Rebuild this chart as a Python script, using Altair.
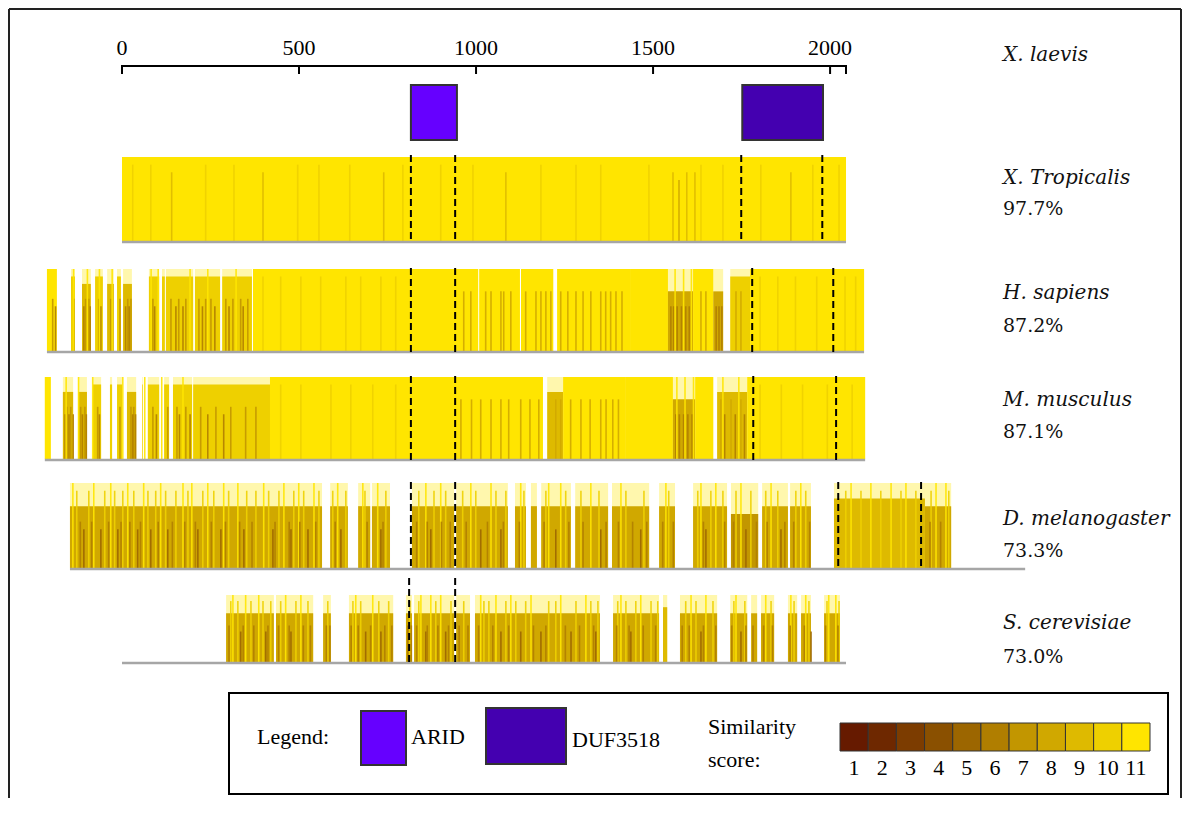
import altair as alt
import pandas as pd

W, H = 1174, 790
X_DOMAIN = [-322, 2994]

# similarity score colour scale (1 = low, 11 = identical)
score_levels = list(range(1, 12))
score_colors = ["#661a00", "#6e2800", "#7c3c00", "#8a5000", "#9c6600", "#b07e00",
                "#c29600", "#d0a800", "#deba00", "#eed000", "#ffe500"]

# top ruler (X. laevis reference positions)
axis_ticks = [0, 500, 1000, 1500, 2000]
axis_end = 2045

# protein domains in X. laevis
domain_names = ["ARID", "DUF3518"]
domain_starts = [816, 1752]
domain_ends = [946, 1980]
domain_colors = ["#6600ff", "#4400b0"]

species = ["X. Tropicalis", "H. sapiens", "M. musculus", "D. melanogaster", "S. cerevisiae"]
identity = ["97.7%", "87.2%", "87.1%", "73.3%", "73.0%"]

# ---- X. tropicalis ----
trop_starts = [0]
trop_ends = [2045]
trop_scores = [11]
trop_line_pos = [28, 79, 138, 234, 314, 396, 494, 554, 641, 737, 791, 898, 989, 1082,
                 1181, 1280, 1350, 1486, 1554, 1571, 1593, 1616, 1633, 1695, 1802, 1887, 1949, 2023]
trop_line_scores = [10, 10, 9, 10, 10, 9, 10, 10, 10, 9, 10, 10, 10, 9,
                    10, 10, 10, 10, 9, 8, 9, 9, 10, 10, 10, 9, 10, 10]
trop_bounds = [816, 941, 1749, 1978]
trop_span = [0, 2045]

# ---- H. sapiens ----
sap_starts = [-212, -144, -113, -76, -42, -14, 3, 76, 113, 124, 206, 283, 370, 935, 1009,
              1127, 1229, 1435, 1542, 1613, 1670, 1718, 1774]
sap_ends = [-184, -133, -88, -54, -23, -3, 28, 105, 121, 201, 277, 367, 935, 1006, 1124,
            1218, 1435, 1542, 1613, 1670, 1698, 1774, 2096]
sap_scores = [11, 10, 9, 10, 9, 10, 9, 10, 10, 10, 10, 10, 11, 11, 11,
              11, 11, 11, 8, 11, 8, 10, 11]
sap_line_pos = [-198, -138, -105, -96, -68, -34, -8, 14, 23, 85, 136, 158, 178, 215, 234, 249,
                291, 311, 333, 353,
                396, 446, 503, 559, 630, 672, 729, 771,
                983, 1025, 1068, 1096, 1181, 1195, 1237, 1280, 1322, 1364, 1393, 1633, 1647,
                1732, 1746, 1800, 1850, 1900, 1960, 2040, 2070,
                -190, -110, -92, -62, 8, 18, 90, 150, 170, 225, 260, 300, 340,
                1548, 1556, 1566, 1578, 1590, 1600, 1676, 1684, 1692,
                -206, -139, -100, -66, -30, 80, 100, 190, 240, 320, 1560, 1584, 1606,
                963, 1040, 1076, 1138, 1167, 1209, 1257, 1300, 1350, 1378, 1410]
sap_line_scores = ([7] * 20 + [10] * 8 + [8] * 15 + [10] * 6
                   + [6] * 13 + [6] * 9 + [11] * 13 + [8] * 11)
sap_bounds = [816, 941, 1780, 2009]
sap_span = [-212, 2096]

# ---- M. musculus ----
mus_starts = [-218, -167, -124, -82, -34, -14, 14, 57, 73, 119, 144, 201, 418, 935, 1201,
              1246, 1421, 1556, 1619, 1681, 1766]
mus_ends = [-201, -138, -99, -59, -28, 0, 40, 59, 105, 133, 198, 418, 935, 1189, 1246,
            1421, 1556, 1619, 1670, 1766, 2099]
mus_scores = [11, 9, 9, 10, 10, 10, 9, 10, 10, 10, 10, 10, 11, 11, 9,
              11, 11, 8, 11, 9, 11]
mus_line_pos = [-158, -147, -119, -107, -71, -8, 23, 31, 85, 127, 153, 178, 220, 263, 305, 347, 376,
                446, 503, 588, 644, 706, 771,
                1011, 1068, 1124, 1223, 1237, 1294, 1350, 1384, 1689, 1718, 1746,
                1800, 1860, 1920, 1990, 2060,
                -163, -152, -140, -114, -103, -66, 28, 36, 95, 160, 190, 240, 285,
                1562, 1572, 1584, 1596, 1608, 1700, 1730, 1756,
                -210, -160, -125, -85, 0, 62, 110, 170, 1565, 1588, 1612, 1695, 1740,
                955, 985, 1040, 1090, 1150, 1175, 1265, 1320, 1365, 1400]
mus_line_scores = ([7] * 17 + [10] * 6 + [8] * 11 + [10] * 5
                   + [6] * 13 + [6] * 8 + [11] * 13 + [8] * 10)
mus_bounds = [816, 941, 1783, 2017]
mus_span = [-218, 2099]

# ---- D. melanogaster ----
mel_starts = [-147, 588, 667, 706, 819, 944, 1110, 1155, 1184, 1280, 1384, 1517, 1613,
              1720, 1808, 1887, 2011, 2268]
mel_ends = [565, 638, 701, 757, 938, 1090, 1141, 1172, 1268, 1373, 1489, 1562, 1709,
            1797, 1881, 1946, 2268, 2342]
mel_scores = [8, 8, 8, 8, 8, 8, 8, 8, 8, 8, 8, 8, 8, 7, 8, 8, 9, 8]
mel_line_pos = [-141, -82, -34, 14, 59, 107, 170, 195, 240, 285, 325, 398, 455, 497, 540, 607,
                678, 720, 856, 898, 983, 1040, 1124, 1203, 1237, 1322, 1407, 1534, 1633, 1675,
                1746, 1831, 1915, 2057, 2113, 2170, 2212, 2297, 2325,
                -110, -62, -14, 42, 79, 127, 212, 277, 342, 424, 475, 523, 616, 729, 870,
                1011, 1068, 1223, 1350, 1463, 1647, 1760, 1859,
                -130, -96, -51, -23, 0, 31, 71, 93, 121, 150, 184, 226, 257, 299, 350, 376,
                412, 441, 483, 511, 554, 593, 630, 684, 743, 836, 879, 912, 960, 997, 1054,
                1082, 1133, 1195, 1251, 1294, 1345, 1421, 1472, 1542, 1624, 1661, 1695, 1732,
                1774, 1816, 1850, 1901, 1929, 2042, 2085, 2141, 2198, 2240, 2283, 2333,
                -120, -88, -40, -5, 20, 50, 100, 140, 175, 205, 250, 290, 330, 365, 430, 470,
                500, 545, 600, 690, 735, 830, 860, 900, 925, 970, 1030, 1075, 1120, 1190,
                1260, 1300, 1365, 1400, 1440, 1480, 1525, 1555, 1640, 1700, 1725, 1790, 1820,
                1870, 1895, 1940, 2280, 2310]
mel_line_scores = [11] * 39 + [5] * 23 + [10] * 56 + [6] * 48
mel_bounds = [816, 941, 2023, 2257]
mel_span = [-147, 2551]

# ---- S. cerevisiae ----
cer_starts = [294, 435, 568, 641, 802, 825, 944, 997, 1387, 1528, 1576, 1718, 1777, 1805,
              1881, 1918, 1983]
cer_ends = [429, 540, 590, 766, 819, 938, 983, 1350, 1517, 1540, 1681, 1766, 1794, 1842,
            1907, 1946, 2028]
cer_scores = [8, 8, 8, 8, 8, 8, 8, 8, 8, 9, 8, 8, 8, 8, 8, 8, 8]
cer_line_pos = [311, 347, 384, 460, 503, 658, 706, 842, 870, 898, 1011, 1054, 1096, 1153, 1237,
                1308, 1407, 1463, 1605, 1647, 1732, 1816, 1887, 1929, 1994, 2014,
                333, 404, 475, 686, 729, 856, 912, 1068, 1124, 1181, 1266, 1336, 1435, 1633,
                1746, 1944,
                305, 325, 362, 396, 418, 446, 489, 523, 579, 650, 672, 723, 751, 811, 836,
                884, 927, 963, 1020, 1034, 1082, 1110, 1138, 1203, 1223, 1280, 1322, 1342,
                1398, 1421, 1449, 1492, 1511, 1590, 1619, 1667, 1726, 1757, 1831, 1896,
                1938, 1989, 2023,
                300, 340, 370, 410, 440, 470, 510, 530, 575, 585, 645, 665, 700, 740, 760,
                805, 815, 830, 860, 890, 920, 950, 975, 1005, 1045, 1090, 1160, 1195, 1250,
                1290, 1330, 1395, 1430, 1470, 1505, 1580, 1600, 1640, 1675, 1720, 1760, 1780,
                1810, 1835, 1885, 1925, 1985, 2020]
cer_line_scores = [11] * 26 + [5] * 16 + [10] * 43 + [6] * 48
cer_bounds = [811, 941]
cer_span = [0, 2045]

# ---------------------------------------------------------------- layout (page px - 8)
SERIF = "Liberation Serif"
LABEL_FONT = "DejaVu Serif"
xscale = alt.Scale(domain=X_DOMAIN)
color_scale = alt.Scale(domain=score_levels, range=score_colors)
LINE_W = 4.5

tracks = [
    # blocks, lines, bounds, span, top, base, dash_top, dash_bot, label_y, pct_y
    ((trop_starts, trop_ends, trop_scores), (trop_line_pos, trop_line_scores), trop_bounds, trop_span,
     149, 233, 147, 235, 170, 201),
    ((sap_starts, sap_ends, sap_scores), (sap_line_pos, sap_line_scores), sap_bounds, sap_span,
     261, 343, 260, 344, 285, 318),
    ((mus_starts, mus_ends, mus_scores), (mus_line_pos, mus_line_scores), mus_bounds, mus_span,
     369, 451, 368, 452, 392, 424),
    ((mel_starts, mel_ends, mel_scores), (mel_line_pos, mel_line_scores), mel_bounds, mel_span,
     475, 560, 474, 562, 511, 543),
    ((cer_starts, cer_ends, cer_scores), (cer_line_pos, cer_line_scores), cer_bounds, cer_span,
     587, 654, 570, 657, 615, 649),
]

layers = []
for i, (blk, lin, bounds, span, top, base, dtop, dbot, ly, py) in enumerate(tracks):
    yscale = alt.Scale(domain=[0, 11], range=[base, top])
    bdf = pd.DataFrame({"start": blk[0], "end": blk[1], "score": blk[2]})
    ldf = pd.DataFrame({"pos": lin[0], "score": lin[1]})
    haze = alt.Chart(bdf).transform_calculate(full="11", zero="0").mark_rect(
        color="#ffe500", opacity=0.32).encode(
        x=alt.X("start:Q", scale=xscale, axis=None), x2="end:Q",
        y=alt.Y("full:Q", scale=yscale, axis=None), y2="zero:Q")
    bars = alt.Chart(bdf).transform_calculate(zero="0").mark_rect().encode(
        x=alt.X("start:Q", scale=xscale, axis=None), x2="end:Q",
        y=alt.Y("score:Q", scale=yscale, axis=None), y2="zero:Q",
        color=alt.Color("score:O", scale=color_scale, legend=None))
    lines = alt.Chart(ldf).transform_calculate(zero="0", pend=f"datum.pos + {LINE_W}").mark_rect(
        opacity=0.9).encode(
        x=alt.X("pos:Q", scale=xscale, axis=None), x2="pend:Q",
        y=alt.Y("score:Q", scale=yscale, axis=None), y2="zero:Q",
        color=alt.Color("score:O", scale=color_scale, legend=None))
    basel = alt.Chart(pd.DataFrame({"start": [span[0]], "end": [span[1]]})).mark_rule(
        color="#a6a6a6", strokeWidth=2.5).encode(
        x=alt.X("start:Q", scale=xscale, axis=None), x2="end:Q", y=alt.value(base + 1))
    dashes = alt.Chart(pd.DataFrame({"pos": bounds})).mark_rule(
        color="black", strokeWidth=2, strokeDash=[7, 4]).encode(
        x=alt.X("pos:Q", scale=xscale, axis=None), y=alt.value(dtop), y2=alt.value(dbot))
    name = alt.Chart(pd.DataFrame({"t": [species[i]]})).mark_text(
        align="left", baseline="middle", font=LABEL_FONT, fontStyle="italic", fontSize=20,
        color="#111").encode(text="t:N", x=alt.value(995), y=alt.value(ly))
    pct = alt.Chart(pd.DataFrame({"t": [identity[i]]})).mark_text(
        align="left", baseline="middle", font=LABEL_FONT, fontSize=19,
        color="#111").encode(text="t:N", x=alt.value(995), y=alt.value(py))
    layers += [haze, bars, lines, basel, dashes, name, pct]

# ruler
ruler_df = pd.DataFrame({"start": [0], "end": [axis_end]})
ruler = alt.Chart(ruler_df).mark_rule(color="black", strokeWidth=2).encode(
    x=alt.X("start:Q", scale=xscale, axis=None), x2="end:Q", y=alt.value(58))
tick_df = pd.DataFrame({"pos": axis_ticks + [axis_end]})
ticks = alt.Chart(tick_df).mark_rule(color="black", strokeWidth=2).encode(
    x=alt.X("pos:Q", scale=xscale, axis=None), y=alt.value(57), y2=alt.value(66))
tlabel_df = pd.DataFrame({"pos": axis_ticks, "lab": [str(t) for t in axis_ticks]})
tlabels = alt.Chart(tlabel_df).mark_text(
    baseline="middle", font=SERIF, fontSize=22, color="black").encode(
    x=alt.X("pos:Q", scale=xscale, axis=None), y=alt.value(40), text="lab:N")
laevis = alt.Chart(pd.DataFrame({"t": ["X. laevis"]})).mark_text(
    align="left", baseline="middle", font=LABEL_FONT, fontStyle="italic", fontSize=20,
    color="#111").encode(text="t:N", x=alt.value(995), y=alt.value(47))

dom_df = pd.DataFrame({"name": domain_names, "start": domain_starts, "end": domain_ends})
dom_scale = alt.Scale(domain=domain_names, range=domain_colors)
doms = alt.Chart(dom_df).mark_rect(stroke="#333", strokeWidth=2).encode(
    x=alt.X("start:Q", scale=xscale, axis=None), x2="end:Q",
    y=alt.value(77), y2=alt.value(132),
    fill=alt.Fill("name:N", scale=dom_scale, legend=None))

# legend box
lbox = alt.Chart(pd.DataFrame({"a": [0]})).mark_rect(
    fill="white", stroke="black", strokeWidth=2).encode(
    x=alt.value(221), x2=alt.value(1160), y=alt.value(685), y2=alt.value(786))
ltext = alt.Chart(pd.DataFrame({
    "t": ["Legend:", "ARID", "DUF3518", "Similarity", "score:"],
    "xp": [249, 403, 564, 700, 700],
    "yp": [729, 729, 732, 719, 752]})).mark_text(
    align="left", baseline="middle", font=SERIF, fontSize=22, color="black").encode(
    text="t:N", x=alt.X("xp:Q", scale=None), y=alt.Y("yp:Q", scale=None))
lsw = alt.Chart(pd.DataFrame({
    "name": domain_names, "x0": [353, 478], "x1": [398, 558], "y0": [703, 700], "y1": [757, 756]})
).mark_rect(stroke="#333", strokeWidth=2).encode(
    x=alt.X("x0:Q", scale=None), x2="x1:Q", y=alt.Y("y0:Q", scale=None), y2="y1:Q",
    fill=alt.Fill("name:N", scale=dom_scale, legend=None))
cell_scale = alt.Scale(domain=score_levels, range=[832, 1142], paddingInner=0, paddingOuter=0)
cells = alt.Chart(pd.DataFrame({"score": score_levels})).mark_rect(
    stroke="#333", strokeWidth=1).encode(
    x=alt.X("score:O", scale=cell_scale, axis=None),
    y=alt.value(715), y2=alt.value(743),
    color=alt.Color("score:O", scale=color_scale, legend=None))
cell_labels = alt.Chart(pd.DataFrame({"score": score_levels})).mark_text(
    baseline="middle", font=SERIF, fontSize=22, color="black").encode(
    x=alt.X("score:O", scale=cell_scale, axis=None), y=alt.value(760), text="score:O")

border = alt.Chart(pd.DataFrame({
    "x0": [1, 1, W - 1], "x1": [W - 1, 1, W - 1], "y0": [1, 1, 1], "y1": [1, H, H]})
).mark_rule(color="#222", strokeWidth=2).encode(
    x=alt.X("x0:Q", scale=None), x2="x1:Q", y=alt.Y("y0:Q", scale=None), y2="y1:Q")

chart = alt.layer(
    *layers, ruler, ticks, tlabels, laevis, doms,
    lbox, ltext, lsw, cells, cell_labels, border
).resolve_scale(
    x="independent", y="independent"
).properties(
    width=W, height=H, padding=0, autosize="none"
).configure_view(stroke=None)

chart.save("out.html", embed_options={"renderer": "svg", "actions": False})
